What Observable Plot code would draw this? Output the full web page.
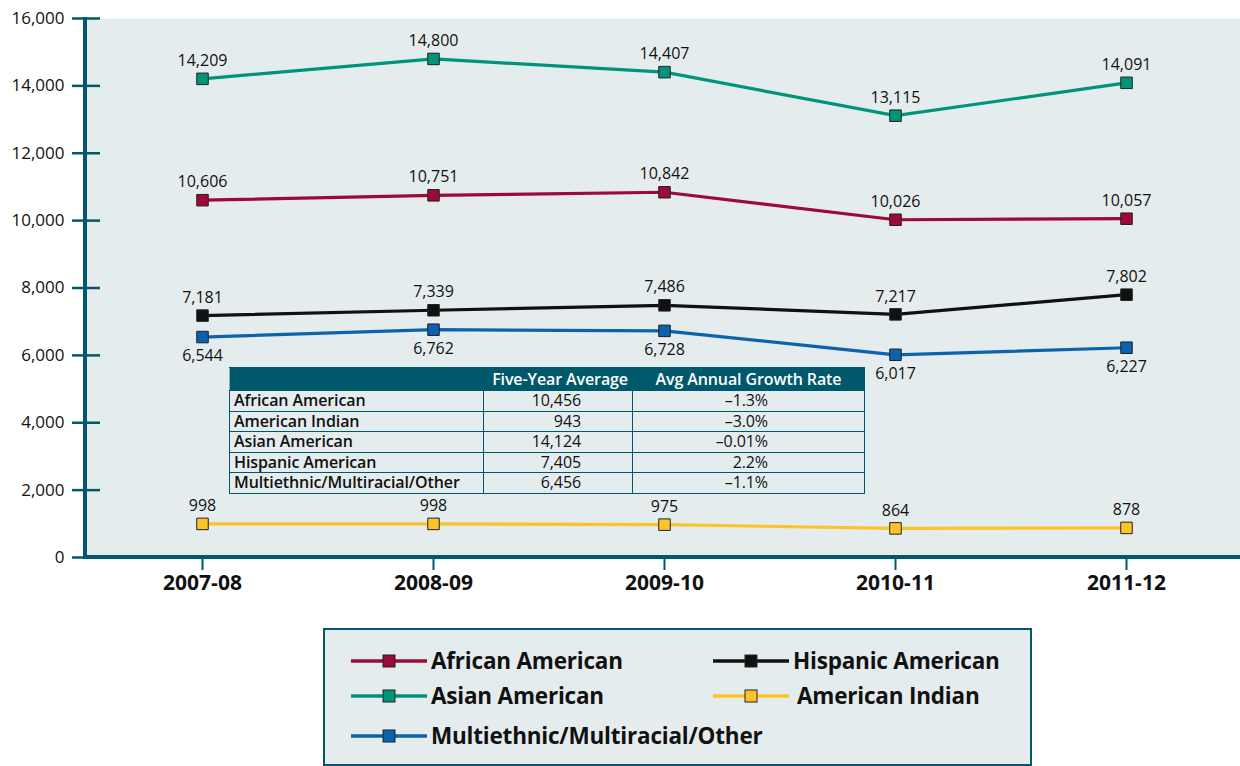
<!DOCTYPE html>
<html>
<head>
<meta charset="utf-8">
<script src="https://cdn.jsdelivr.net/npm/d3@7"></script>
<script src="https://cdn.jsdelivr.net/npm/@observablehq/plot@0.6"></script>
<style>
  body { margin: 0; background: #fff; font-family: "Open Sans", sans-serif; }
  #wrap { position: relative; width: 1240px; height: 766px; overflow: hidden; }
  #tbl { position: absolute; left: 229px; top: 367px; border-collapse: collapse; font-size: 16px; color: #111; }
  #tbl td, #tbl th { border: 1px solid #00586b; padding: 0 4px; height: 19.5px; line-height: 19px; white-space: nowrap; letter-spacing: -0.1px; }
  #tbl th { background: #00586b; color: #fff; font-weight: 600; height: 22px; border-left-color: #8fb0b8; }
  #tbl td.c1 { font-weight: 600; }
  #tbl .c2 { text-align: right; padding-right: 51px; }
  #tbl th.c2 { padding-right: 4px; text-align: right; }
  #tbl .c3 { text-align: right; padding-right: 96px; }
  #tbl th.c3 { text-align: center; padding-right: 4px; }
  #legend { position: absolute; left: 323px; top: 628px; width: 705px; height: 134px; border: 2px solid #00586b; background: #e5ecee; }
  .li { position: absolute; display: flex; align-items: center; font-weight: 700; font-size: 22.5px; color: #111; letter-spacing: -0.2px; }
  .li svg { margin-right: 4px; }
</style>
</head>
<body>
<div id="wrap"></div>
<script>
const years = ["2007-08", "2008-09", "2009-10", "2010-11", "2011-12"];
const seriesNames = ["African American", "Hispanic American", "Asian American", "American Indian", "Multiethnic/Multiracial/Other"];
const seriesColors = ["#9b0a38", "#111111", "#00957a", "#fcc32a", "#0d62ad"];
const africanAmerican = [10606, 10751, 10842, 10026, 10057];
const hispanicAmerican = [7181, 7339, 7486, 7217, 7802];
const asianAmerican = [14209, 14800, 14407, 13115, 14091];
const americanIndian = [998, 998, 975, 864, 878];
const multiethnic = [6544, 6762, 6728, 6017, 6227];
const yTicks = [0, 2000, 4000, 6000, 8000, 10000, 12000, 14000, 16000];

const tableHeader = ["", "Five-Year Average", "Avg Annual Growth Rate"];
const tableGroups = ["African American", "American Indian", "Asian American", "Hispanic American", "Multiethnic/Multiracial/Other"];
const tableAverages = ["10,456", "943", "14,124", "7,405", "6,456"];
const tableGrowth = ["\u20131.3%", "\u20133.0%", "\u20130.01%", "2.2%", "\u20131.1%"];

const valuesBySeries = [africanAmerican, hispanicAmerican, asianAmerican, americanIndian, multiethnic];
const data = [];
seriesNames.forEach((s, i) => years.forEach((y, j) => data.push({series: s, year: y, value: valuesBySeries[i][j]})));

const teal = "#00586b";
const fontFamily = "'Open Sans', sans-serif";

const plot = Plot.plot({
  width: 1240,
  height: 615,
  marginLeft: 85,
  marginRight: -3.5,
  marginTop: 18,
  marginBottom: 58,
  style: {fontFamily, background: "transparent", overflow: "visible"},
  x: {type: "point", domain: years, padding: 0.5, label: null},
  y: {domain: [0, 16000], label: null},
  color: {domain: seriesNames, range: seriesColors},
  marks: [
    Plot.frame({fill: "#e5ecee", stroke: null}),
    Plot.axisY({ticks: yTicks, tickFormat: d3.format(","), tickSize: 28, dx: 15, tickPadding: 8, stroke: teal, strokeWidth: 2.5, fontSize: 17, fill: "#111"}),
    Plot.axisX({tickSize: 13, tickPadding: 5, stroke: teal, strokeWidth: 2, fontSize: 21, fontWeight: "bold", fill: "#111"}),
    (index, scales, values, dimensions) => {
      const g = d3.create("svg:g");
      const x0 = dimensions.marginLeft;
      const y0 = scales.y(0);
      g.append("line").attr("x1", x0).attr("x2", x0).attr("y1", scales.y(16000) - 1).attr("y2", y0 + 2)
        .attr("stroke", teal).attr("stroke-width", 4);
      g.append("line").attr("x1", x0 - 2).attr("x2", dimensions.width + 5).attr("y1", y0).attr("y2", y0)
        .attr("stroke", teal).attr("stroke-width", 4);
      return g.node();
    },
    Plot.line(data, {x: "year", y: "value", z: "series", stroke: "series", strokeWidth: 3.2}),
    Plot.dot(data, {x: "year", y: "value", fill: "series", symbol: "square", r: 6.5, stroke: "#222", strokeWidth: 1}),
    Plot.text(data.filter(d => d.series !== "Multiethnic/Multiracial/Other"), {x: "year", y: "value", text: d => d3.format(",")(d.value), dy: -18, fontSize: 16, fill: "#111"}),
    Plot.text(data.filter(d => d.series === "Multiethnic/Multiracial/Other"), {x: "year", y: "value", text: d => d3.format(",")(d.value), dy: 19, fontSize: 16, fill: "#111"})
  ]
});

const wrap = document.getElementById("wrap");
wrap.appendChild(plot);

// Summary table
const tbl = document.createElement("table");
tbl.id = "tbl";
const colW = [254, 149, 232];
let html = "<tr>" + tableHeader.map((h, i) => `<th class="c${i + 1}" style="width:${colW[i] - 9}px">${h}</th>`).join("") + "</tr>";
tableGroups.forEach((g, i) => {
  html += `<tr><td class="c1">${g}</td><td class="c2">${tableAverages[i]}</td><td class="c3">${tableGrowth[i]}</td></tr>`;
});
tbl.innerHTML = html;
wrap.appendChild(tbl);

// Legend
const legend = document.createElement("div");
legend.id = "legend";
const legendPos = [[25, 15], [387, 15], [25, 50], [387, 50], [25, 90]];
const legendOrder = ["African American", "Hispanic American", "Asian American", "American Indian", "Multiethnic/Multiracial/Other"];
legendOrder.forEach((name, i) => {
  const c = seriesColors[seriesNames.indexOf(name)];
  const item = document.createElement("div");
  item.className = "li";
  item.style.left = legendPos[i][0] + "px";
  item.style.top = legendPos[i][1] + "px";
  const extra = name === "American Indian" ? 4 : 0;
  item.innerHTML = `<svg width="${77 + extra}" height="16"><line x1="1" x2="77" y1="8" y2="8" stroke="${c}" stroke-width="3.5"/><rect x="33" y="2" width="12" height="12" fill="${c}" stroke="#222" stroke-width="1"/></svg><span>${name}</span>`;
  legend.appendChild(item);
});
wrap.appendChild(legend);
</script>
</body>
</html>
